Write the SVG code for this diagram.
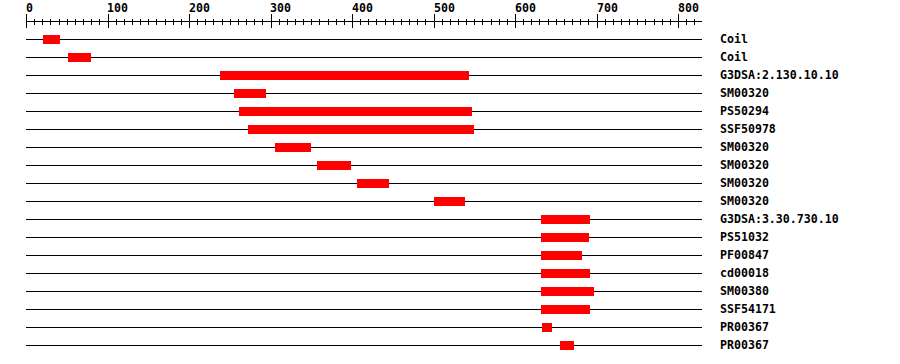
<svg xmlns="http://www.w3.org/2000/svg" width="900" height="364" viewBox="0 0 900 364">
<style>
.t{font-family:"DejaVu Sans Mono","Liberation Mono",monospace;font-weight:bold;font-size:11.6px;fill:#000}
.ln{stroke:#000;stroke-width:1;fill:none}
.bar{fill:#ff0000}
</style>
<rect width="900" height="364" fill="#fff"/>
<g id="axis">
<path class="ln" d="M26,21.5H702"/>
<path class="ln" d="M26.5,14V28M108.5,14V28M189.5,14V28M271.5,14V28M352.5,14V28M434.5,14V28M515.5,14V28M597.5,14V28M678.5,14V28"/>
<path class="ln" d="M34.5,19V25M42.5,19V25M50.5,19V25M59.5,19V25M67.5,19V25M75.5,19V25M83.5,19V25M91.5,19V25M99.5,19V25M116.5,19V25M124.5,19V25M132.5,19V25M140.5,19V25M148.5,19V25M156.5,19V25M165.5,19V25M173.5,19V25M181.5,19V25M197.5,19V25M205.5,19V25M213.5,19V25M222.5,19V25M230.5,19V25M238.5,19V25M246.5,19V25M254.5,19V25M262.5,19V25M279.5,19V25M287.5,19V25M295.5,19V25M303.5,19V25M311.5,19V25M319.5,19V25M328.5,19V25M336.5,19V25M344.5,19V25M360.5,19V25M368.5,19V25M376.5,19V25M385.5,19V25M393.5,19V25M401.5,19V25M409.5,19V25M417.5,19V25M425.5,19V25M442.5,19V25M450.5,19V25M458.5,19V25M466.5,19V25M474.5,19V25M482.5,19V25M491.5,19V25M499.5,19V25M507.5,19V25M523.5,19V25M531.5,19V25M539.5,19V25M548.5,19V25M556.5,19V25M564.5,19V25M572.5,19V25M580.5,19V25M588.5,19V25M605.5,19V25M613.5,19V25M621.5,19V25M629.5,19V25M637.5,19V25M645.5,19V25M654.5,19V25M662.5,19V25M670.5,19V25M686.5,19V25M694.5,19V25"/>
<text class="t" x="26" y="12">0</text>
<text class="t" x="107" y="12">100</text>
<text class="t" x="189" y="12">200</text>
<text class="t" x="270" y="12">300</text>
<text class="t" x="352" y="12">400</text>
<text class="t" x="434" y="12">500</text>
<text class="t" x="515" y="12">600</text>
<text class="t" x="597" y="12">700</text>
<text class="t" x="678" y="12">800</text>
</g>
<g id="row0"><path class="ln" d="M26,39.5H702"/><rect class="bar" x="43" y="35" width="17" height="9"/><text class="t" x="720" y="43">Coil</text></g>
<g id="row1"><path class="ln" d="M26,57.5H702"/><rect class="bar" x="68" y="53" width="23" height="9"/><text class="t" x="720" y="61">Coil</text></g>
<g id="row2"><path class="ln" d="M26,75.5H702"/><rect class="bar" x="220" y="71" width="249" height="9"/><text class="t" x="720" y="79">G3DSA:2.130.10.10</text></g>
<g id="row3"><path class="ln" d="M26,93.5H702"/><rect class="bar" x="234" y="89" width="32" height="9"/><text class="t" x="720" y="97">SM00320</text></g>
<g id="row4"><path class="ln" d="M26,111.5H702"/><rect class="bar" x="239" y="107" width="233" height="9"/><text class="t" x="720" y="115">PS50294</text></g>
<g id="row5"><path class="ln" d="M26,129.5H702"/><rect class="bar" x="248" y="125" width="226" height="9"/><text class="t" x="720" y="133">SSF50978</text></g>
<g id="row6"><path class="ln" d="M26,147.5H702"/><rect class="bar" x="275" y="143" width="36" height="9"/><text class="t" x="720" y="151">SM00320</text></g>
<g id="row7"><path class="ln" d="M26,165.5H702"/><rect class="bar" x="317" y="161" width="34" height="9"/><text class="t" x="720" y="169">SM00320</text></g>
<g id="row8"><path class="ln" d="M26,183.5H702"/><rect class="bar" x="357" y="179" width="32" height="9"/><text class="t" x="720" y="187">SM00320</text></g>
<g id="row9"><path class="ln" d="M26,201.5H702"/><rect class="bar" x="434" y="197" width="31" height="9"/><text class="t" x="720" y="205">SM00320</text></g>
<g id="row10"><path class="ln" d="M26,219.5H702"/><rect class="bar" x="541" y="215" width="49" height="9"/><text class="t" x="720" y="223">G3DSA:3.30.730.10</text></g>
<g id="row11"><path class="ln" d="M26,237.5H702"/><rect class="bar" x="541" y="233" width="48" height="9"/><text class="t" x="720" y="241">PS51032</text></g>
<g id="row12"><path class="ln" d="M26,255.5H702"/><rect class="bar" x="541" y="251" width="41" height="9"/><text class="t" x="720" y="259">PF00847</text></g>
<g id="row13"><path class="ln" d="M26,273.5H702"/><rect class="bar" x="541" y="269" width="49" height="9"/><text class="t" x="720" y="277">cd00018</text></g>
<g id="row14"><path class="ln" d="M26,291.5H702"/><rect class="bar" x="541" y="287" width="53" height="9"/><text class="t" x="720" y="295">SM00380</text></g>
<g id="row15"><path class="ln" d="M26,309.5H702"/><rect class="bar" x="541" y="305" width="49" height="9"/><text class="t" x="720" y="313">SSF54171</text></g>
<g id="row16"><path class="ln" d="M26,327.5H702"/><rect class="bar" x="542" y="323" width="10" height="9"/><text class="t" x="720" y="331">PR00367</text></g>
<g id="row17"><path class="ln" d="M26,345.5H702"/><rect class="bar" x="560" y="341" width="14" height="9"/><text class="t" x="720" y="349">PR00367</text></g>
<g id="connectors"></g>
</svg>
